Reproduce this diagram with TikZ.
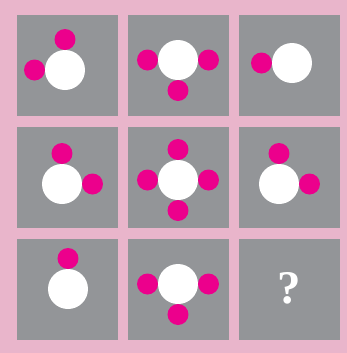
\documentclass[tikz,border=0pt]{standalone}
\usepackage{fontspec}
\newfontfamily\qfont{Liberation Serif}
\definecolor{framepink}{RGB}{233,181,203}
\definecolor{cellgray}{RGB}{147,149,152}
\definecolor{dotpink}{RGB}{236,0,140}
\tikzset{
	cell/.style={fill=cellgray, draw=none, minimum size=3.03cm, inner sep=0pt},
	hub/.style={fill=white},
	dot/.style={fill=dotpink},
}
\begin{document}
\begin{tikzpicture}[x=0.03cm, y=-0.03cm]
	\fill[framepink] (0,0) rectangle (347,353);
	\node[cell] (c11) at (67.5,65.5) {};
	\node[cell] (c12) at (178.5,65.5) {};
	\node[cell] (c13) at (289.5,65.5) {};
	\node[cell] (c21) at (67.5,177.5) {};
	\node[cell] (c22) at (178.5,177.5) {};
	\node[cell] (c23) at (289.5,177.5) {};
	\node[cell] (c31) at (67.5,289.5) {};
	\node[cell] (c32) at (178.5,289.5) {};
	\node[cell] (c33) at (289.5,289.5) {};
	% row 1
	\fill[hub] (65,70) circle (20);
	\fill[dot] (65,39.5) circle (10.5);
	\fill[dot] (34.5,70) circle (10.5);
	\fill[hub] (178,60) circle (20);
	\fill[dot] (147.5,60) circle (10.5);
	\fill[dot] (208.5,60) circle (10.5);
	\fill[dot] (178,90.5) circle (10.5);
	\fill[hub] (292,63) circle (20);
	\fill[dot] (261.5,63) circle (10.5);
	% row 2
	\fill[hub] (62,184) circle (20);
	\fill[dot] (62,153.5) circle (10.5);
	\fill[dot] (92.5,184) circle (10.5);
	\fill[hub] (178,180) circle (20);
	\fill[dot] (178,149.5) circle (10.5);
	\fill[dot] (147.5,180) circle (10.5);
	\fill[dot] (208.5,180) circle (10.5);
	\fill[dot] (178,210.5) circle (10.5);
	\fill[hub] (279,184) circle (20);
	\fill[dot] (279,153.5) circle (10.5);
	\fill[dot] (309.5,184) circle (10.5);
	% row 3
	\fill[hub] (68,289) circle (20);
	\fill[dot] (68,258.5) circle (10.5);
	\fill[hub] (178,284) circle (20);
	\fill[dot] (147.5,284) circle (10.5);
	\fill[dot] (208.5,284) circle (10.5);
	\fill[dot] (178,314.5) circle (10.5);
	\node[text=white, inner sep=0pt, font=\qfont\fontsize{40}{40}\selectfont\bfseries] (q) at (289.5,288) {?};
\end{tikzpicture}
\end{document}
